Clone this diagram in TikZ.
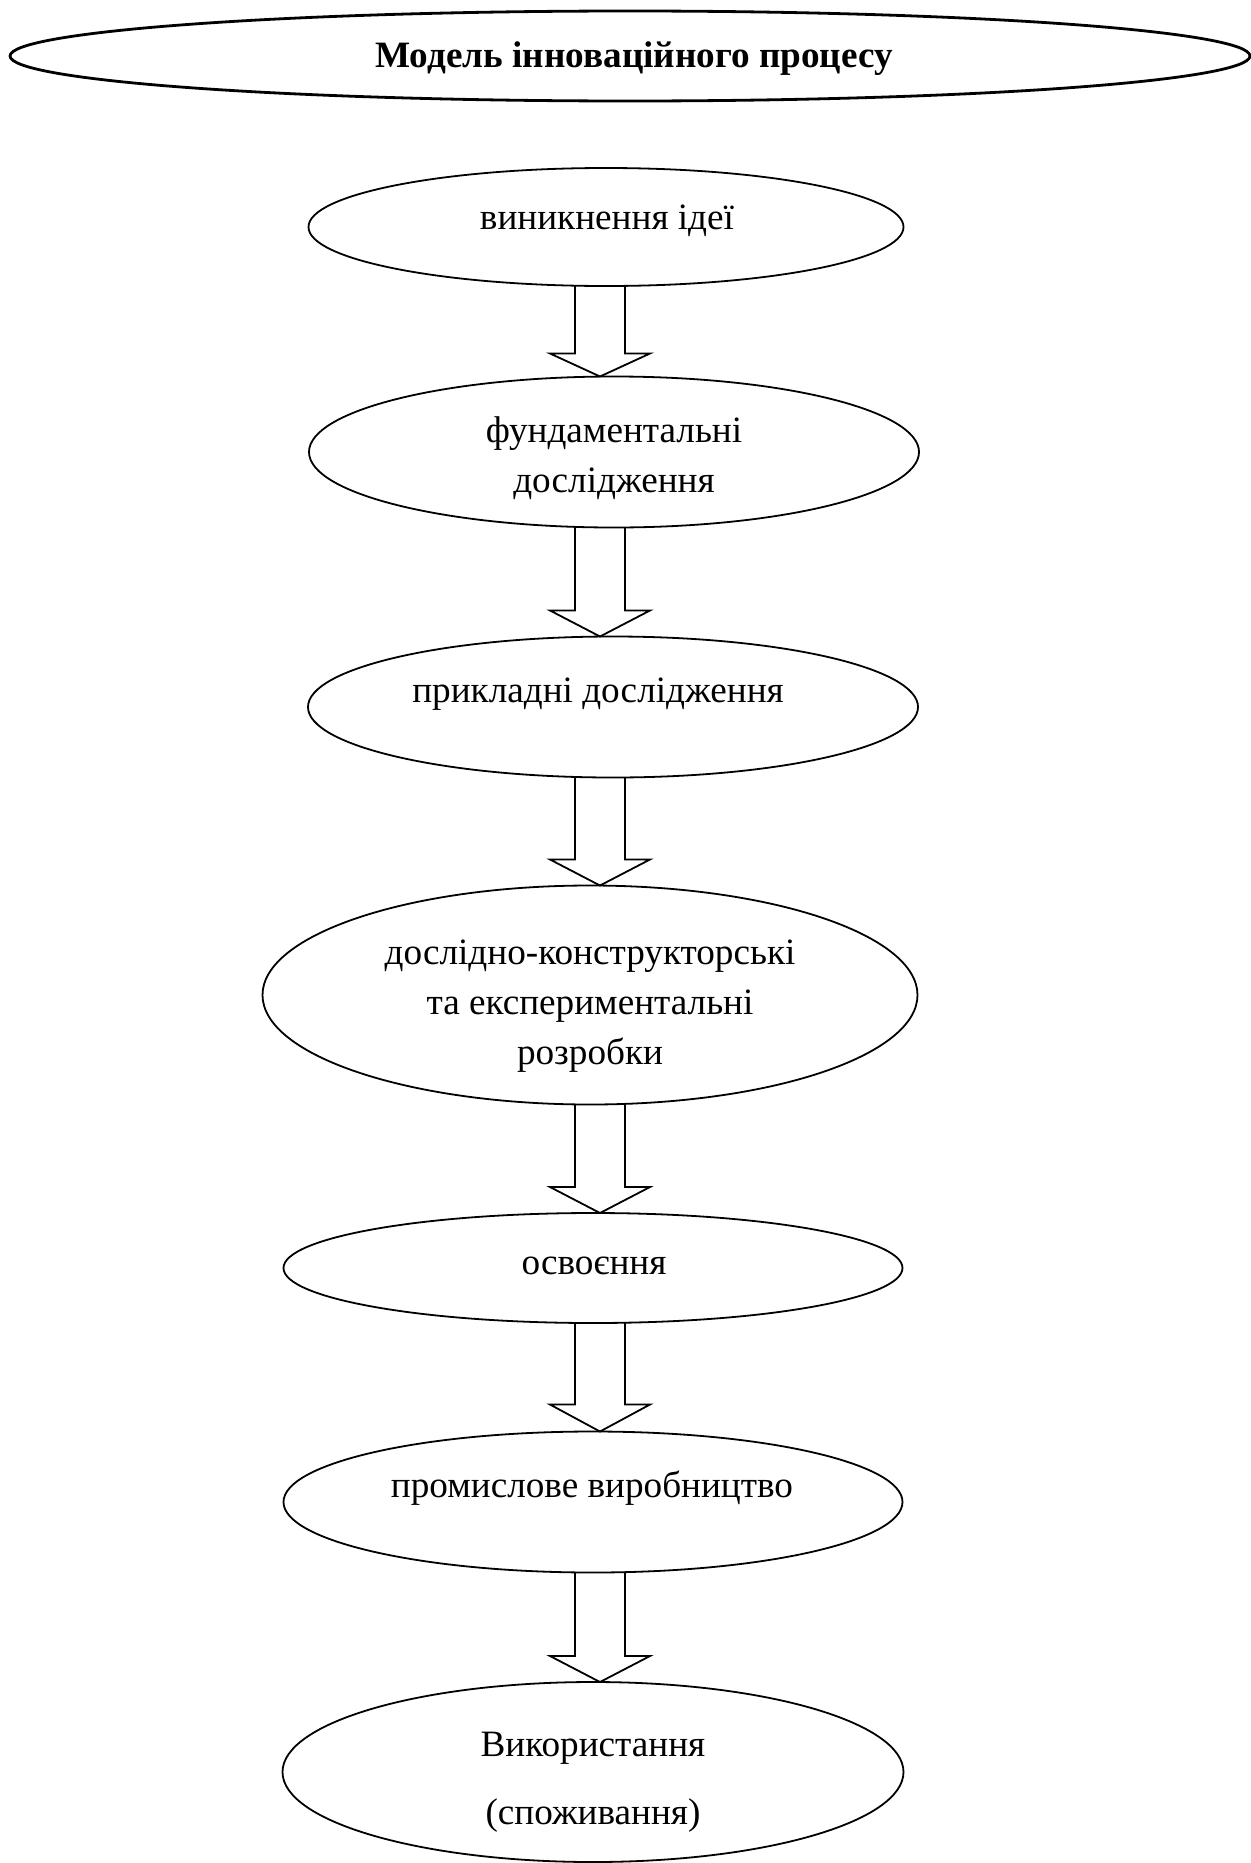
\documentclass[tikz,border=0pt]{standalone}
\usepackage{fontspec}
\setmainfont{Liberation Serif}
\usetikzlibrary{shapes.geometric,calc}
% text placed in a zero-size box: #1 = horizontal offset (pt = px), #2 = raise of last baseline (pt), #3 = lines
\newcommand\eltext[3]{\makebox[0pt][c]{\hspace*{#1}\raisebox{#2}[0pt][0pt]{\begin{tabular}[b]{@{}c@{}}#3\end{tabular}}}}
\tikzset{
  elbox/.style={ellipse, draw, line width=0.9pt, inner sep=0pt, outer sep=0pt,
    font=\fontsize{18.6}{25}\selectfont},
  titlebox/.style={elbox, line width=1.4pt, font=\fontsize{18.6}{25}\selectfont\bfseries},
  flowarrow/.style={draw, line width=0.9pt, line join=miter},
}
% hollow block arrow from node #1 (bottom) to node #2 (top); #3 = head length in px
\newcommand\flowarrow[3]{%
  \draw[flowarrow]
    ($(ax |- #1.south)+(-25,0)$) --
    ($(ax |- #2.north)+(-25,-#3)$) --
    ($(ax |- #2.north)+(-50,-#3)$) --
    (ax |- #2.north) --
    ($(ax |- #2.north)+(50,-#3)$) --
    ($(ax |- #2.north)+(25,-#3)$) --
    ($(ax |- #1.south)+(25,0)$);}
\begin{document}
\begin{tikzpicture}[x=0.5pt, y=-0.5pt]
  \useasboundingbox (0,0) rectangle (1251,1863);
  \coordinate (ax) at (600,0);

  \node[titlebox, minimum width=620pt, minimum height=45pt] (title) at (630,56)
    {\eltext{4pt}{-5.5pt}{Модель інноваційного процесу}};

  \node[elbox, minimum width=297.5pt, minimum height=59pt] (e1) at (606,227)
    {\eltext{1pt}{-1pt}{виникнення ідеї}};
  \node[elbox, minimum width=305pt, minimum height=75.5pt] (e2) at (614,452)
    {\eltext{0pt}{-20pt}{фундаментальні\\дослідження}};
  \node[elbox, minimum width=305pt, minimum height=70.5pt] (e3) at (613,707)
    {\eltext{-15pt}{2.5pt}{прикладні дослідження}};
  \node[elbox, minimum width=327.5pt, minimum height=109.5pt] (e4) at (590,995)
    {\eltext{0pt}{-34.5pt}{дослідно-конструкторські\\та експериментальні\\розробки}};
  \node[elbox, minimum width=309.5pt, minimum height=55pt] (e5) at (593,1268)
    {\eltext{1pt}{-3pt}{освоєння}};
  \node[elbox, minimum width=309.5pt, minimum height=70.5pt] (e6) at (593,1502)
    {\eltext{-1pt}{2.5pt}{промислове виробництво}};
  \node[elbox, minimum width=310.5pt, minimum height=90pt] (e7) at (593,1772)
    {\eltext{0pt}{-26pt}{Використання\\[9pt](споживання)}};

  \flowarrow{e1}{e2}{23}
  \flowarrow{e2}{e3}{26}
  \flowarrow{e3}{e4}{26}
  \flowarrow{e4}{e5}{26}
  \flowarrow{e5}{e6}{27}
  \flowarrow{e6}{e7}{26}
\end{tikzpicture}
\end{document}
